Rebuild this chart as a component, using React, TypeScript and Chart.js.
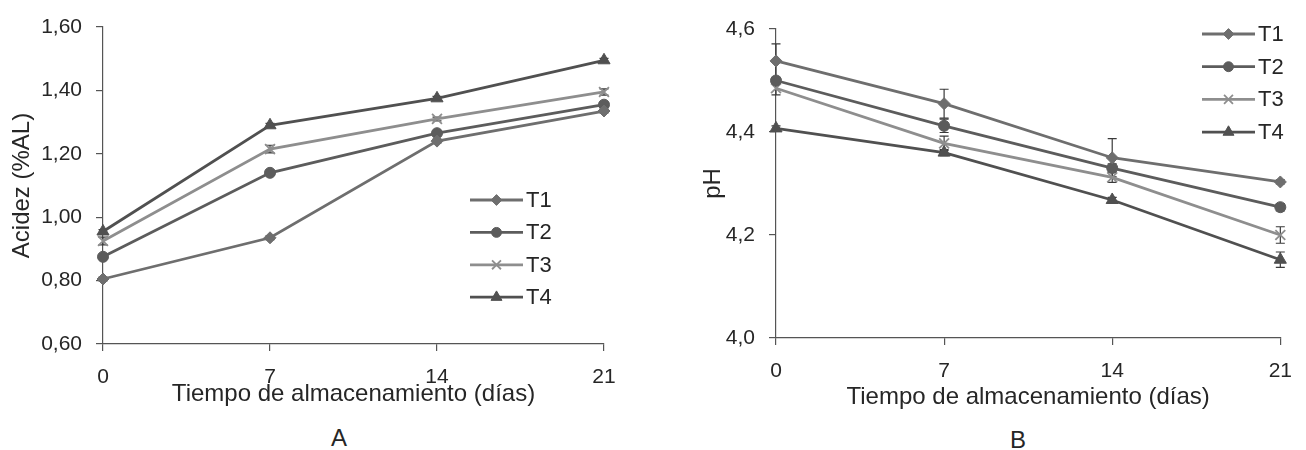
import React, { useEffect, useRef } from "react";
import { Chart, registerables } from "chart.js";
import { drawPoint } from "chart.js/helpers";

Chart.register(...registerables);

// Storage time (days) and tick labels
const days = [0, 7, 14, 21];
const xTickLabels = ["0", "7", "14", "21"];

const seriesNames = ["T1", "T2", "T3", "T4"];
const seriesColors = ["#6e6e6e", "#5c5c5c", "#8e8e8e", "#505050"];
const pointStyles = ["rectRot", "circle", "crossRot", "triangle"];
const pointRadii = [6, 5.5, 7, 7];

// A: Acidez (%AL)
const acidezT1 = [0.805, 0.935, 1.24, 1.335];
const acidezT2 = [0.875, 1.14, 1.265, 1.355];
const acidezT3 = [0.925, 1.215, 1.31, 1.395];
const acidezT4 = [0.955, 1.29, 1.375, 1.495];
const acidezErrT1 = [0.006, 0.006, 0.006, 0.006];
const acidezErrT2 = [0.006, 0.008, 0.006, 0.006];
const acidezErrT3 = [0.012, 0.012, 0.006, 0.01];
const acidezErrT4 = [0.006, 0.006, 0.006, 0.006];
const acidezTickValues = [0.6, 0.8, 1.0, 1.2, 1.4, 1.6];
const acidezTickLabels = ["0,60", "0,80", "1,00", "1,20", "1,40", "1,60"];

// B: pH
const phT1 = [4.538, 4.455, 4.35, 4.303];
const phT2 = [4.5, 4.412, 4.33, 4.254];
const phT3 = [4.485, 4.378, 4.312, 4.2];
const phT4 = [4.407, 4.36, 4.268, 4.152];
const phErrT1 = [0.033, 0.028, 0.037, 0.004];
const phErrT2 = [0.006, 0.013, 0.008, 0.007];
const phErrT3 = [0.013, 0.014, 0.01, 0.016];
const phErrT4 = [0.005, 0.006, 0.005, 0.015];
const phTickValues = [4.0, 4.2, 4.4, 4.6];
const phTickLabels = ["4,0", "4,2", "4,4", "4,6"];

const FONT = "'Liberation Sans', Arial, sans-serif";
const TEXT = "#262626";
const AXIS = "#555555";

const errorBarsPlugin = {
  id: "errorBars",
  beforeDatasetsDraw(chart: any) {
    const { ctx } = chart;
    const xs = chart.scales.x;
    const ys = chart.scales.y;
    ctx.save();
    ctx.strokeStyle = "#3a3a3a";
    ctx.lineWidth = 1.2;
    chart.data.datasets.forEach((ds: any) => {
      (ds.errors || []).forEach((e: number, i: number) => {
        const v = ds.data[i].y;
        const x = xs.getPixelForValue(ds.data[i].x);
        const yTop = ys.getPixelForValue(v + e);
        const yBot = ys.getPixelForValue(v - e);
        ctx.beginPath();
        ctx.moveTo(x, yTop);
        ctx.lineTo(x, yBot);
        ctx.moveTo(x - 4.5, yTop);
        ctx.lineTo(x + 4.5, yTop);
        ctx.moveTo(x - 4.5, yBot);
        ctx.lineTo(x + 4.5, yBot);
        ctx.stroke();
      });
    });
    ctx.restore();
  },
};

const seriesLegendPlugin = {
  id: "seriesLegend",
  afterDraw(chart: any) {
    const opts = chart.options.plugins.seriesLegend;
    if (!opts) return;
    const { ctx } = chart;
    ctx.save();
    chart.data.datasets.forEach((ds: any, i: number) => {
      const y = opts.y + i * opts.rowGap;
      const x0 = opts.x;
      const x1 = opts.x + opts.lineLen;
      ctx.strokeStyle = ds.borderColor;
      ctx.lineWidth = 2.8;
      ctx.beginPath();
      ctx.moveTo(x0, y);
      ctx.lineTo(x1, y);
      ctx.stroke();
      ctx.fillStyle = ds.pointBackgroundColor;
      ctx.strokeStyle = ds.pointBorderColor;
      ctx.lineWidth = ds.pointBorderWidth;
      drawPoint(ctx, { pointStyle: ds.pointStyle, radius: ds.pointRadius * 0.9, borderWidth: ds.pointBorderWidth, rotation: 0 }, (x0 + x1) / 2, y);
      ctx.fillStyle = TEXT;
      ctx.font = `22px ${FONT}`;
      ctx.textBaseline = "middle";
      ctx.textAlign = "left";
      ctx.fillText(ds.label, x1 + 3, y + 1);
    });
    ctx.restore();
  },
};

type PanelSpec = {
  series: number[][];
  errors: number[][];
  tickValues: number[];
  tickLabels: string[];
  yTitle: string;
  yAxisWidth: number;
  xAxisHeight: number;
  padding: { top: number; right: number; bottom: number; left: number };
  yTitlePad: number;
  xTitlePad: number;
  legend: { x: number; y: number; rowGap: number; lineLen: number };
};

function buildConfig(p: PanelSpec): any {
  const datasets = p.series.map((vals, i) => ({
    label: seriesNames[i],
    data: vals.map((v, j) => ({ x: days[j], y: v })),
    errors: p.errors[i],
    borderColor: seriesColors[i],
    backgroundColor: seriesColors[i],
    pointBackgroundColor: seriesColors[i],
    pointBorderColor: seriesColors[i],
    pointBorderWidth: pointStyles[i] === "crossRot" ? 1.8 : 1,
    pointStyle: pointStyles[i],
    pointRadius: pointRadii[i],
    borderWidth: 2.8,
    tension: 0,
    clip: false,
  }));
  return {
    type: "line",
    data: { datasets },
    plugins: [errorBarsPlugin, seriesLegendPlugin],
    options: {
      animation: false,
      responsive: false,
      maintainAspectRatio: false,
      layout: { padding: p.padding },
      plugins: {
        legend: { display: false },
        tooltip: { enabled: false },
        seriesLegend: p.legend,
      },
      scales: {
        x: {
          type: "linear",
          min: days[0],
          max: days[days.length - 1],
          afterBuildTicks: (scale: any) => {
            scale.ticks = days.map((d) => ({ value: d }));
          },
          afterFit: (scale: any) => {
            scale.height = p.xAxisHeight;
          },
          ticks: {
            callback: (_v: any, idx: number) => xTickLabels[idx],
            color: TEXT,
            font: { family: FONT, size: 21 },
            padding: 14,
            maxRotation: 0,
          },
          grid: { display: true, drawOnChartArea: false, drawTicks: true, tickLength: 7, color: AXIS, lineWidth: 1.2 },
          border: { display: true, color: AXIS, width: 1.2 },
          title: {
            display: true,
            text: "Tiempo de almacenamiento (días)",
            color: TEXT,
            font: { family: FONT, size: 24 },
            padding: { top: 0, bottom: p.xTitlePad },
          },
        },
        y: {
          type: "linear",
          min: p.tickValues[0],
          max: p.tickValues[p.tickValues.length - 1],
          afterBuildTicks: (scale: any) => {
            scale.ticks = p.tickValues.map((v) => ({ value: v }));
          },
          afterFit: (scale: any) => {
            scale.width = p.yAxisWidth;
          },
          ticks: {
            callback: (_v: any, idx: number) => p.tickLabels[idx],
            color: TEXT,
            font: { family: FONT, size: 21 },
            padding: 14,
          },
          grid: { display: true, drawOnChartArea: false, drawTicks: true, tickLength: 7, color: AXIS, lineWidth: 1.2 },
          border: { display: true, color: AXIS, width: 1.2 },
          title: {
            display: true,
            text: p.yTitle,
            color: TEXT,
            font: { family: FONT, size: 24 },
            padding: { top: p.yTitlePad, bottom: 0 },
          },
        },
      },
    },
  };
}

const panelA: PanelSpec = {
  series: [acidezT1, acidezT2, acidezT3, acidezT4],
  errors: [acidezErrT1, acidezErrT2, acidezErrT3, acidezErrT4],
  tickValues: acidezTickValues,
  tickLabels: acidezTickLabels,
  yTitle: "Acidez (%AL)",
  yAxisWidth: 103,
  xAxisHeight: 76,
  padding: { top: 27, right: 46, bottom: 0, left: 0 },
  yTitlePad: 8,
  xTitlePad: 11,
  legend: { x: 470, y: 200, rowGap: 32.4, lineLen: 53 },
};

const panelB: PanelSpec = {
  series: [phT1, phT2, phT3, phT4],
  errors: [phErrT1, phErrT2, phErrT3, phErrT4],
  tickValues: phTickValues,
  tickLabels: phTickLabels,
  yTitle: "pH",
  yAxisWidth: 120,
  xAxisHeight: 82,
  padding: { top: 29, right: 13, bottom: 0, left: 0 },
  yTitlePad: 43,
  xTitlePad: 8,
  legend: { x: 1202 - 656, y: 34, rowGap: 32.7, lineLen: 53 },
};

function Panel({ spec, left }: { spec: PanelSpec; left: number }) {
  const ref = useRef<HTMLCanvasElement | null>(null);
  useEffect(() => {
    if (!ref.current) return;
    const chart = new Chart(ref.current, buildConfig(spec));
    return () => chart.destroy();
  }, [spec]);
  return (
    <canvas
      ref={ref}
      width={650}
      height={420}
      style={{ position: "absolute", left, top: 0, width: 650, height: 420 }}
    />
  );
}

const letterStyle: React.CSSProperties = {
  position: "absolute",
  width: 40,
  textAlign: "center",
  font: `24px ${FONT}`,
  lineHeight: "24px",
  color: TEXT,
};

export default function App() {
  return (
    <div style={{ position: "absolute", left: 0, top: 0, width: 1306, height: 450, background: "#fff", overflow: "hidden" }}>
      <Panel spec={panelA} left={0} />
      <Panel spec={panelB} left={656} />
      <div style={{ ...letterStyle, left: 319, top: 426 }}>A</div>
      <div style={{ ...letterStyle, left: 998, top: 428 }}>B</div>
    </div>
  );
}
